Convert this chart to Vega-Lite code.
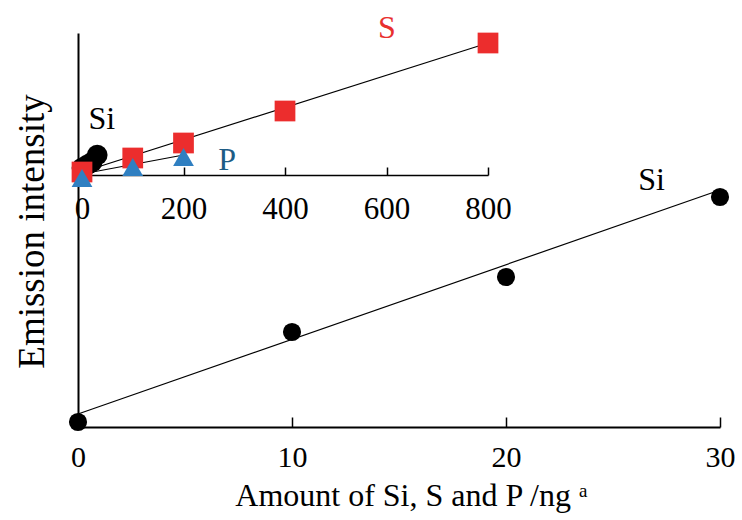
{
  "$schema": "https://vega.github.io/schema/vega-lite/v6.json",
  "width": 642,
  "height": 394,
  "autosize": "none",
  "padding": {"left": 78, "top": 33, "right": 22, "bottom": 93},
  "background": "white",
  "config": {
    "view": {"stroke": null},
    "font": "Liberation Serif, serif",
    "style": {
      "guide-label": {"font": "Liberation Serif, serif", "fill": "black"},
      "guide-title": {"font": "Liberation Serif, serif", "fill": "black", "fontWeight": "normal"}
    },
    "axis": {
      "labelFont": "Liberation Serif, serif",
      "titleFont": "Liberation Serif, serif",
      "labelColor": "black",
      "titleColor": "black",
      "domainColor": "black",
      "tickColor": "black",
      "titleFontWeight": "normal",
      "grid": false,
      "labelFlush": false,
      "labelOverlap": false
    }
  },
  "layer": [
    {
      "layer": [
        {
          "data": {"values": [{"x": 0, "y": 13}, {"x": 30, "y": 237}]},
          "mark": {"type": "line", "color": "black", "strokeWidth": 1.2},
          "encoding": {
            "x": {
              "field": "x", "type": "quantitative",
              "scale": {"domain": [0, 30], "nice": false},
              "axis": {
                "orient": "bottom", "values": [0, 10, 20, 30],
                "tickSize": -10, "tickWidth": 1.5, "domainWidth": 2,
                "labelFont": "Liberation Serif, serif", "labelFontSize": 30, "labelPadding": 25, "labelColor": "black",
                "title": "Amount of Si, S and P /ng ᵃ", "titleFont": "Liberation Serif, serif", "titleFontSize": 32,
                "titleFontWeight": "normal", "titleColor": "black",
                "titleX": 333, "titleY": 78, "titleBaseline": "alphabetic", "titleAlign": "center"
              }
            },
            "y": {
              "field": "y", "type": "quantitative",
              "scale": {"domain": [0, 394], "nice": false},
              "axis": {
                "orient": "left", "ticks": false, "labels": false, "domainWidth": 2,
                "title": "Emission intensity", "titleFont": "Liberation Serif, serif", "titleFontSize": 37,
                "titleFontWeight": "normal", "titleColor": "black", "titleAngle": -90,
                "titleX": -35, "titleY": 198, "titleBaseline": "alphabetic", "titleAlign": "center"
              }
            }
          }
        },
        {
          "data": {"values": [{"x": 0, "y": 5}, {"x": 10, "y": 95}, {"x": 20, "y": 150}, {"x": 30, "y": 230}]},
          "mark": {"type": "point", "shape": "circle", "filled": true, "color": "black", "opacity": 1, "size": 330},
          "encoding": {
            "x": {"field": "x", "type": "quantitative"},
            "y": {"field": "y", "type": "quantitative"}
          }
        },
        {
          "data": {"values": [{"x": 26.8, "y": 247, "label": "Si"}]},
          "mark": {"type": "text", "font": "Liberation Serif", "fontSize": 32, "color": "black", "align": "center", "baseline": "middle"},
          "encoding": {
            "x": {"field": "x", "type": "quantitative"},
            "y": {"field": "y", "type": "quantitative"},
            "text": {"field": "label"}
          }
        }
      ]
    },
    {
      "layer": [
        {
          "data": {"values": [
            {"series": "S", "x": 0, "y": 3}, {"series": "S", "x": 800, "y": 132},
            {"series": "P", "x": 0, "y": 1}, {"series": "P", "x": 200, "y": 20},
            {"series": "Si", "x": 0, "y": 6}, {"series": "Si", "x": 30, "y": 19}
          ]},
          "mark": {"type": "line", "color": "black", "strokeWidth": 1.2},
          "encoding": {
            "x": {
              "field": "x", "type": "quantitative",
              "scale": {"domain": [0, 800], "range": [4, 410], "nice": false},
              "axis": {
                "orient": "bottom", "offset": -252, "values": [0, 200, 400, 600, 800],
                "tickSize": -8, "tickWidth": 1.5, "domainWidth": 1.5,
                "labelFont": "Liberation Serif, serif", "labelFontSize": 31, "labelPadding": 27, "labelColor": "black",
                "title": null
              }
            },
            "y": {
              "field": "y", "type": "quantitative",
              "scale": {"domain": [0, 142], "range": [142, 0], "nice": false, "zero": false},
              "axis": {"orient": "left", "domain": false, "ticks": false, "labels": false, "title": null}
            },
            "detail": {"field": "series"}
          }
        },
        {
          "data": {"values": [
            {"series": "Si", "x": 0, "y": 7}, {"series": "Si", "x": 10, "y": 10},
            {"series": "Si", "x": 20, "y": 13}, {"series": "Si", "x": 30, "y": 20},
            {"series": "S", "x": 0, "y": 3}, {"series": "S", "x": 100, "y": 17},
            {"series": "S", "x": 200, "y": 32}, {"series": "S", "x": 400, "y": 64},
            {"series": "S", "x": 800, "y": 132},
            {"series": "P", "x": 0, "y": -3}, {"series": "P", "x": 100, "y": 8},
            {"series": "P", "x": 200, "y": 18}
          ]},
          "mark": {"type": "point", "filled": true, "opacity": 1, "size": 430},
          "encoding": {
            "x": {"field": "x", "type": "quantitative"},
            "y": {"field": "y", "type": "quantitative"},
            "color": {
              "field": "series", "type": "nominal",
              "scale": {"domain": ["Si", "S", "P"], "range": ["#000000", "#ec2d2d", "#2f7fc1"]},
              "legend": null
            },
            "shape": {
              "field": "series", "type": "nominal",
              "scale": {"domain": ["Si", "S", "P"], "range": ["circle", "square", "triangle-up"]},
              "legend": null
            }
          }
        },
        {
          "data": {"values": [{"x": 601, "y": 147, "label": "S"}]},
          "mark": {"type": "text", "font": "Liberation Serif", "fontSize": 32, "color": "#e8302e", "align": "center", "baseline": "middle"},
          "encoding": {
            "x": {"field": "x", "type": "quantitative"},
            "y": {"field": "y", "type": "quantitative"},
            "text": {"field": "label"}
          }
        },
        {
          "data": {"values": [{"x": 286, "y": 15, "label": "P"}]},
          "mark": {"type": "text", "font": "Liberation Serif", "fontSize": 32, "color": "#1d5c85", "align": "center", "baseline": "middle"},
          "encoding": {
            "x": {"field": "x", "type": "quantitative"},
            "y": {"field": "y", "type": "quantitative"},
            "text": {"field": "label"}
          }
        },
        {
          "data": {"values": [{"x": 39, "y": 56, "label": "Si"}]},
          "mark": {"type": "text", "font": "Liberation Serif", "fontSize": 32, "color": "black", "align": "center", "baseline": "middle"},
          "encoding": {
            "x": {"field": "x", "type": "quantitative"},
            "y": {"field": "y", "type": "quantitative"},
            "text": {"field": "label"}
          }
        }
      ]
    }
  ],
  "resolve": {"scale": {"x": "independent", "y": "independent", "color": "independent", "shape": "independent"}}
}
